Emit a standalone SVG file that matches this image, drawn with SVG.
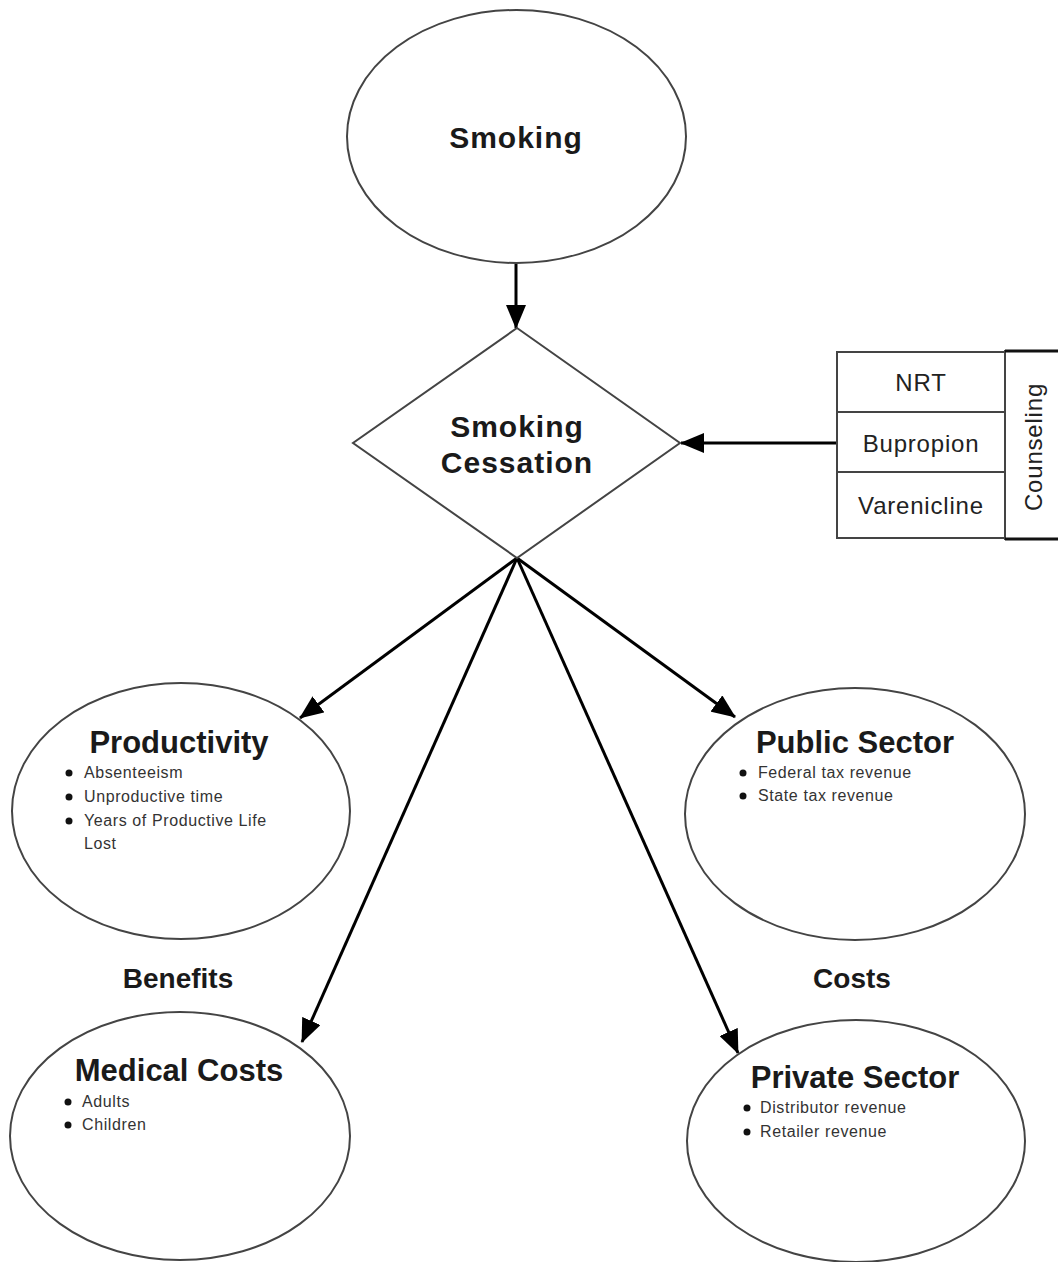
<svg xmlns="http://www.w3.org/2000/svg" width="1058" height="1262" viewBox="0 0 1058 1262">
<style>
.shape{fill:#fff;stroke:#444;stroke-width:2}
.conn{stroke:#000;stroke-width:3;fill:none}
.title{font-family:"Liberation Sans",Arial,sans-serif;font-weight:bold;fill:#1a1a1a;text-anchor:middle}
.big{font-size:30px;letter-spacing:1px}
.head{font-size:31px}
.lbl{font-family:"Liberation Sans",Arial,sans-serif;font-size:24px;fill:#222;text-anchor:middle;letter-spacing:0.8px}
.bul{font-family:"Liberation Sans",Arial,sans-serif;font-size:16px;fill:#333;letter-spacing:0.6px}
.dot{fill:#111}
</style>
<defs>
<marker id="arr" markerUnits="userSpaceOnUse" markerWidth="24" markerHeight="20" refX="23" refY="10" orient="auto" viewBox="0 0 24 20">
<path d="M0,0 L24,10 L0,20 Z" fill="#000"/>
</marker>
</defs>
<rect width="1058" height="1262" fill="#fff"/>

<g id="connectors">
<line class="conn" x1="516" y1="264" x2="516" y2="328" marker-end="url(#arr)"/>
<line class="conn" x1="837" y1="443" x2="681" y2="443" marker-end="url(#arr)"/>
<line class="conn" x1="517" y1="558" x2="300" y2="718" marker-end="url(#arr)"/>
<line class="conn" x1="517" y1="558" x2="302" y2="1042" marker-end="url(#arr)"/>
<line class="conn" x1="517" y1="558" x2="735" y2="717" marker-end="url(#arr)"/>
<line class="conn" x1="517" y1="558" x2="738" y2="1053" marker-end="url(#arr)"/>
</g>

<g id="smoking">
<ellipse class="shape" cx="516.5" cy="136.5" rx="169.5" ry="126.5"/>
<text class="title big" x="516" y="148">Smoking</text>
</g>

<g id="cessation">
<polygon class="shape" points="517,328 680,443 517,558 353,443"/>
<text class="title big" x="517" y="437">Smoking</text>
<text class="title big" x="517" y="473">Cessation</text>
</g>

<g id="treatments">
<rect class="shape" x="837" y="352" width="168" height="60"/>
<rect class="shape" x="837" y="412" width="168" height="60"/>
<rect class="shape" x="837" y="472" width="168" height="66"/>
<text class="lbl" x="921" y="391">NRT</text>
<text class="lbl" x="921" y="452">Bupropion</text>
<text class="lbl" x="921" y="514">Varenicline</text>
</g>

<g id="counseling">
<rect class="shape" x="1005" y="351" width="60" height="188"/>
<line x1="1005" y1="351" x2="1058" y2="351" stroke="#111" stroke-width="3"/>
<line x1="1005" y1="539" x2="1058" y2="539" stroke="#111" stroke-width="3"/>
<text class="lbl" transform="translate(1042,447) rotate(-90)" x="0" y="0">Counseling</text>
</g>

<g id="productivity">
<ellipse class="shape" cx="181" cy="811" rx="169" ry="128"/>
<text class="title head" x="179" y="753">Productivity</text>
<circle class="dot" cx="69" cy="773" r="3.5"/>
<circle class="dot" cx="69" cy="797" r="3.5"/>
<circle class="dot" cx="69" cy="821" r="3.5"/>
<text class="bul" x="84" y="778">Absenteeism</text>
<text class="bul" x="84" y="802">Unproductive time</text>
<text class="bul" x="84" y="826">Years of Productive Life</text>
<text class="bul" x="84" y="849">Lost</text>
</g>

<g id="public-sector">
<ellipse class="shape" cx="855" cy="814" rx="170" ry="126"/>
<text class="title head" x="855" y="753">Public Sector</text>
<circle class="dot" cx="743" cy="773" r="3.5"/>
<circle class="dot" cx="743" cy="796" r="3.5"/>
<text class="bul" x="758" y="778">Federal tax revenue</text>
<text class="bul" x="758" y="801">State tax revenue</text>
</g>

<g id="benefits">
<text class="title" style="font-size:28px" x="178" y="988">Benefits</text>
</g>
<g id="costs">
<text class="title" style="font-size:28px" x="852" y="988">Costs</text>
</g>

<g id="medical-costs">
<ellipse class="shape" cx="180" cy="1136" rx="170" ry="124"/>
<text class="title head" x="179" y="1081">Medical Costs</text>
<circle class="dot" cx="68" cy="1102" r="3.5"/>
<circle class="dot" cx="68" cy="1125" r="3.5"/>
<text class="bul" x="82" y="1107">Adults</text>
<text class="bul" x="82" y="1130">Children</text>
</g>

<g id="private-sector">
<ellipse class="shape" cx="856" cy="1141" rx="169" ry="121"/>
<text class="title head" x="855" y="1088">Private Sector</text>
<circle class="dot" cx="747" cy="1108" r="3.5"/>
<circle class="dot" cx="747" cy="1132" r="3.5"/>
<text class="bul" x="760" y="1113">Distributor revenue</text>
<text class="bul" x="760" y="1137">Retailer revenue</text>
</g>
</svg>
